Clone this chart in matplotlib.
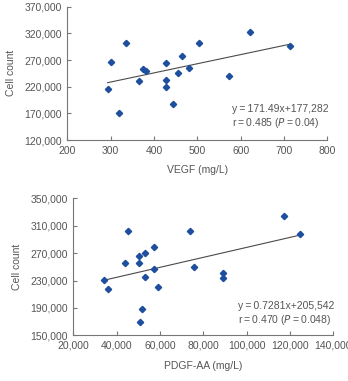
import matplotlib
matplotlib.use('Agg')
import matplotlib.pyplot as plt
import numpy as np

# VEGF panel
vegf = [293, 301, 319, 336, 366, 374, 382, 427, 427, 427, 445, 455, 465, 482, 503, 573, 622, 714]
vegf_count = [216000, 266500, 170000, 301000, 230000, 254000, 249000, 264000, 232000, 219000,
              188000, 245000, 277000, 255000, 301000, 240000, 322500, 296500]
vegf_fit = (171.49, 177282)

# PDGF-AA panel
pdgf = [34300, 35900, 44000, 45100, 50300, 50500, 50900, 51800, 53100, 53000,
        57100, 57400, 59000, 73900, 75900, 89200, 89200, 117100, 124600]
pdgf_count = [231000, 218000, 255500, 302000, 266000, 256000, 170000, 189000, 269500, 235500,
              247000, 279000, 220000, 303000, 249000, 241000, 233000, 324000, 297500]
pdgf_fit = (0.7281, 205542)

vegf_ticks = [200, 300, 400, 500, 600, 700, 800]
vegf_yticks = [120000, 170000, 220000, 270000, 320000, 370000]
pdgf_ticks = [20000, 40000, 60000, 80000, 100000, 120000, 140000]
pdgf_yticks = [150000, 190000, 230000, 270000, 310000, 350000]

TEXT = '#555555'
AXIS = '#777777'
MARK = '#1d4f9e'

plt.rcParams.update({
    'font.family': ['Liberation Sans Narrow', 'Liberation Sans', 'DejaVu Sans'],
    'font.size': 7.5,
    'mathtext.fontset': 'custom',
    'mathtext.rm': 'Liberation Sans Narrow',
    'mathtext.it': 'Liberation Sans Narrow:italic',
    'axes.spines.top': False,
    'axes.spines.right': False,
})

fig = plt.figure(figsize=(3.48, 3.81), dpi=100)
ax1 = fig.add_axes([0.1934, 0.6325, 0.7471, 0.3499])
ax2 = fig.add_axes([0.2106, 0.1199, 0.7471, 0.3596])


def draw(ax, x, y, fit, xt, yt, xlabel, eq, rtxt, txy):
    x = np.array(x, dtype=float)
    ax.plot(x, y, linestyle='none', marker='D', markersize=3.2, color=MARK, zorder=3)
    xs = np.array([x.min(), x.max()])
    ax.plot(xs, fit[0] * xs + fit[1], color='#4a4a4a', linewidth=0.8, zorder=2)
    ax.set_xlim(xt[0], xt[-1])
    ax.set_ylim(yt[0], yt[-1])
    ax.set_xticks(xt)
    ax.set_yticks(yt)
    ax.set_xticklabels([f'{v:,}' for v in xt])
    ax.set_yticklabels([f'{v:,}' for v in yt])
    ax.tick_params(direction='in', length=3, width=0.8, color=AXIS,
                   labelcolor=TEXT, labelsize=7.5, pad=4)
    for s in ('left', 'bottom'):
        ax.spines[s].set_color(AXIS)
        ax.spines[s].set_linewidth(0.8)
    ax.set_xlabel(xlabel, color=TEXT, fontsize=7.5, labelpad=7)
    ax.set_ylabel('Cell count', color=TEXT, fontsize=7.5, labelpad=6)
    ax.text(txy[0], txy[1], eq, transform=ax.transAxes, color=TEXT, fontsize=7.5,
            ha='left', va='center')
    ax.text(txy[0], txy[1] - 0.105, rtxt, transform=ax.transAxes, color=TEXT,
            fontsize=7.5, ha='left', va='center')


draw(ax1, vegf, vegf_count, vegf_fit, vegf_ticks, vegf_yticks, 'VEGF (mg/L)',
     'y\u2009=\u2009171.49x+177,282', 'r\u2009=\u20090.485 ($P$\u2009=\u20090.04)',
     (0.634, 0.232))
draw(ax2, pdgf, pdgf_count, pdgf_fit, pdgf_ticks, pdgf_yticks, 'PDGF-AA (mg/L)',
     'y\u2009=\u20090.7281x+205,542', 'r\u2009=\u20090.470 ($P$\u2009=\u20090.048)',
     (0.633, 0.215))

fig.savefig('out.png', dpi=100)
